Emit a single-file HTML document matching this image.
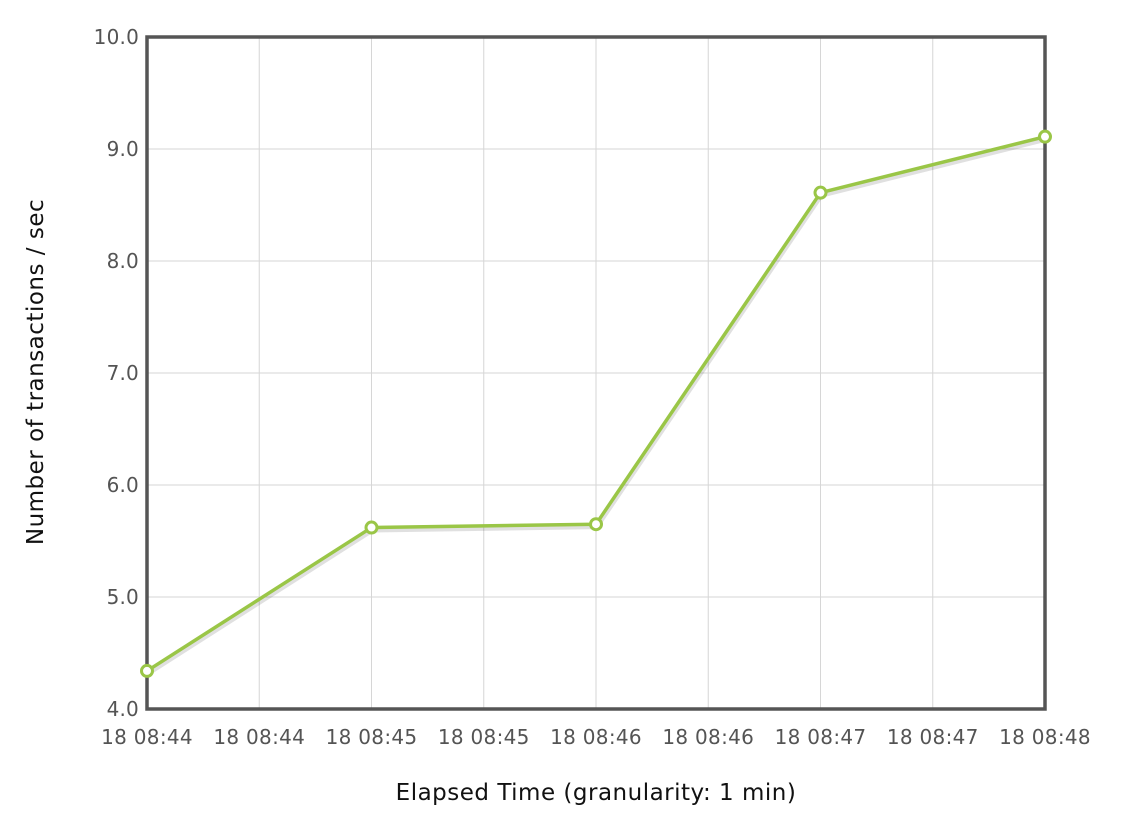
<!DOCTYPE html>
<html><head><meta charset="utf-8"><style>
body{margin:0;background:#fff;width:1128px;height:828px;overflow:hidden}
svg text{font-family:"DejaVu Sans","Liberation Sans",sans-serif}
</style></head><body>
<svg width="1128" height="828">
<g id="grid"></g>
<g id="ticks"></g>
<g id="series"></g>
<rect x="147" y="37" width="898" height="672" fill="none" stroke="#555" stroke-width="3.5"/>
<g id="pts"></g>
<text x="596" y="800" font-size="23" letter-spacing="0.5" text-anchor="middle" fill="#111">Elapsed Time (granularity: 1 min)</text>
<text transform="translate(43,372) rotate(-90)" font-size="23" letter-spacing="0.5" text-anchor="middle" fill="#111">Number of transactions / sec</text>
</svg>
<script>
const xLabels=["18 08:44","18 08:44","18 08:45","18 08:45","18 08:46","18 08:46","18 08:47","18 08:47","18 08:48"];
const yTicks=[4,5,6,7,8,9,10];
const xVals=[0,1,2,3,4];
const yVals=[4.34,5.62,5.65,8.61,9.11];
const X0=147,X1=1045,Y0=709,Y1=37;
function xs(v){return X0+(X1-X0)*v/4;}
function ys(v){return Y0-(Y0-Y1)*(v-4)/6;}
const NS="http://www.w3.org/2000/svg";
function mk(t,a,p){const e=document.createElementNS(NS,t);for(const k in a)e.setAttribute(k,a[k]);p.appendChild(e);return e;}
const grid=document.getElementById('grid'),ticks=document.getElementById('ticks');
yTicks.forEach(v=>{
 const l=mk('line',{x1:X0,x2:X1,y1:ys(v),y2:ys(v),stroke:'#d6d6d6','stroke-width':1},grid);
 
 
 const t=mk('text',{x:X0-8,y:ys(v)+7,'font-size':20,'letter-spacing':0.2,'text-anchor':'end',fill:'#545454'},ticks);
 t.textContent=v.toFixed(1);
 
 
});
xLabels.forEach((s,i)=>{
 const x=xs(i*0.5);
 const l=mk('line',{x1:x,x2:x,y1:Y1,y2:Y0,stroke:'#d6d6d6','stroke-width':1},grid);
 
 
 const t=mk('text',{x:x,y:744,'font-size':20,'letter-spacing':0.3,'text-anchor':'middle',fill:'#545454'},ticks);
 t.textContent=s;
 
 
});
const ser=document.getElementById('series');
const pts=xVals.map((v,i)=>xs(v)+','+ys(yVals[i]));
const sh=mk('polyline',{points:xVals.map((v,i)=>(xs(v)+1)+','+(ys(yVals[i])+3)).join(' '),fill:'none',stroke:'rgba(0,0,0,0.12)','stroke-width':4},ser);


const ln=mk('polyline',{points:pts.join(' '),fill:'none',stroke:'#9ac647','stroke-width':3.5,'stroke-linejoin':'round'},ser);


const pg=document.getElementById('pts');
xVals.forEach((v,i)=>{
 const c=mk('circle',{cx:xs(v),cy:ys(yVals[i]),r:5.5,fill:'#fff',stroke:'#9ac647','stroke-width':3},pg);
 
 
});
</script>
</body></html>
